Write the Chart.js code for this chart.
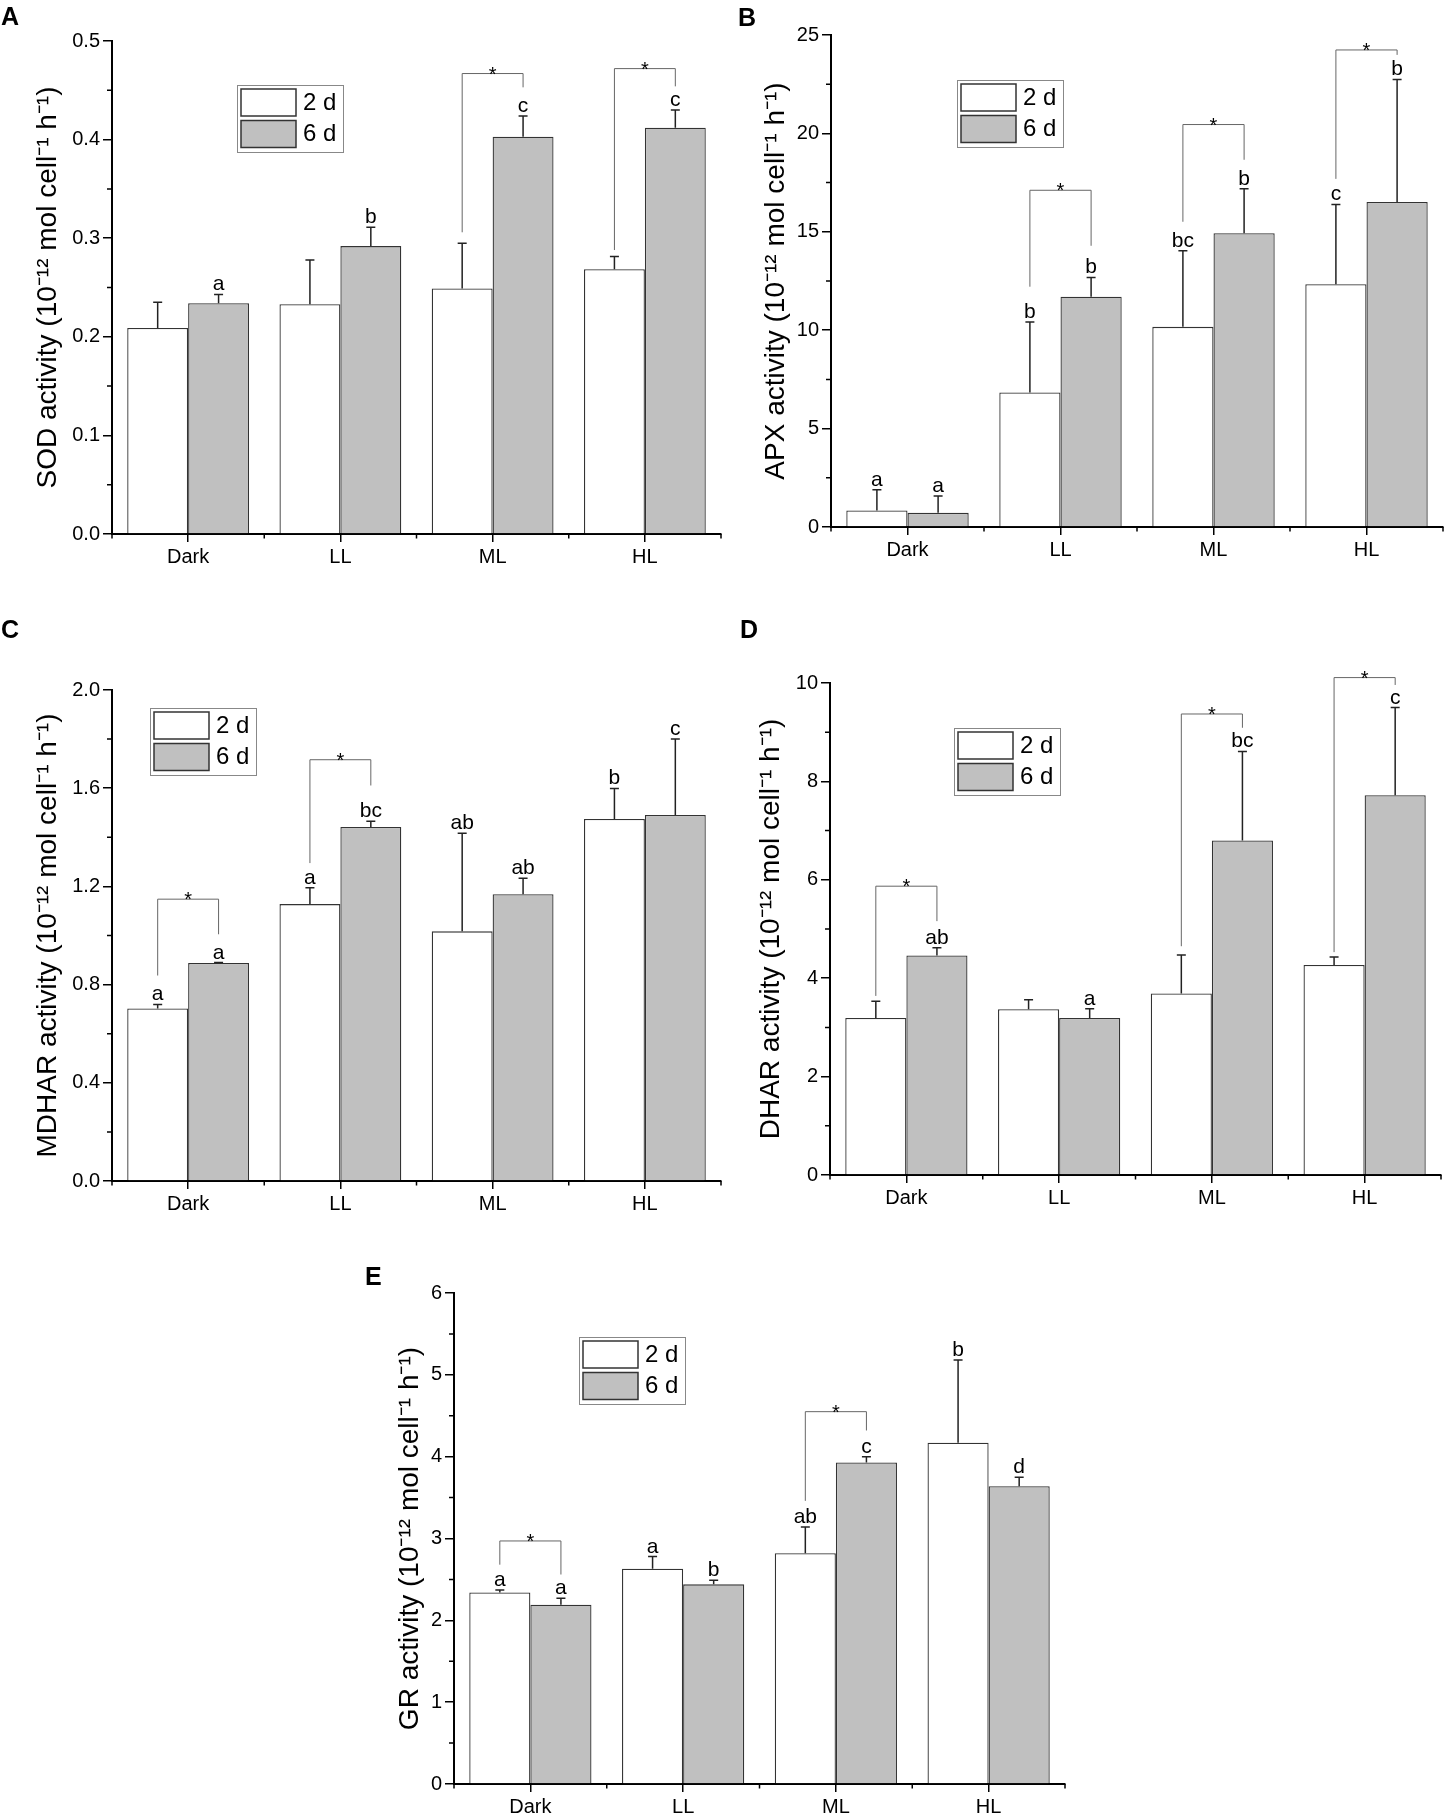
<!DOCTYPE html>
<html>
<head>
<meta charset="utf-8">
<script src="https://cdn.jsdelivr.net/npm/chart.js@4.4.1/dist/chart.umd.min.js"></script>
<style>
  body { margin: 0; background: #fff; width: 1447px; height: 1820px; position: relative; overflow: hidden;
         font-family: "Liberation Sans", Arial, sans-serif; }
  .panel { position: absolute; }
  .tag { position: absolute; font-weight: bold; font-size: 25px; line-height: 1; color: #000; }
</style>
</head>
<body>
<div class="panel" style="left:0px;top:0px;width:724px;height:600px"><canvas id="sodChart"></canvas></div>
<div class="panel" style="left:724px;top:0px;width:723px;height:600px"><canvas id="apxChart"></canvas></div>
<div class="panel" style="left:0px;top:600px;width:724px;height:630px"><canvas id="mdharChart"></canvas></div>
<div class="panel" style="left:724px;top:600px;width:723px;height:630px"><canvas id="dharChart"></canvas></div>
<div class="panel" style="left:350px;top:1230px;width:750px;height:590px"><canvas id="grChart"></canvas></div>

<div class="tag" style="left:1px;top:4px">A</div>
<div class="tag" style="left:738px;top:5px">B</div>
<div class="tag" style="left:1px;top:617px">C</div>
<div class="tag" style="left:740px;top:617px">D</div>
<div class="tag" style="left:365px;top:1264px">E</div>

<script>
// Categories and series
const groups = ['Dark', 'LL', 'ML', 'HL'];
const seriesNames = ['2 d', '6 d'];

// SOD
const sod2d = [0.209, 0.233, 0.249, 0.2685];
const sod6d = [0.234, 0.292, 0.403, 0.412];
const sodErr2d = [0.026, 0.045, 0.046, 0.013];
const sodErr6d = [0.009, 0.019, 0.021, 0.018];
const sodLetters2d = ['', '', '', ''];
const sodLetters6d = ['a', 'b', 'c', 'c'];
const sodBrackets = [[2, 0.306, 0.467, 0.453], [3, 0.288, 0.472, 0.454]];

// APX
const apx2d = [0.84, 6.84, 10.17, 12.34];
const apx6d = [0.72, 11.70, 14.93, 16.52];
const apxErr2d = [1.05, 3.58, 3.87, 4.05];
const apxErr6d = [0.86, 0.98, 2.26, 6.22];
const apxLetters2d = ['a', 'b', 'bc', 'c'];
const apxLetters6d = ['a', 'b', 'b', 'b'];
const apxBrackets = [[1, 12.21, 17.11, 14.29], [2, 15.51, 20.45, 18.66], [3, 17.69, 24.24, 23.99]];

// MDHAR
const mdhar2d = [0.703, 1.128, 1.017, 1.475];
const mdhar6d = [0.888, 1.442, 1.168, 1.491];
const mdharErr2d = [0.016, 0.067, 0.399, 0.124];
const mdharErr6d = [0.002, 0.023, 0.065, 0.309];
const mdharLetters2d = ['a', 'a', 'ab', 'b'];
const mdharLetters6d = ['a', 'bc', 'ab', 'c'];
const mdharBrackets = [[0, 0.837, 1.148, 1.005], [1, 1.295, 1.716, 1.611]];

// DHAR
const dhar2d = [3.19, 3.37, 3.69, 4.27];
const dhar6d = [4.46, 3.19, 6.80, 7.72];
const dharErr2d = [0.34, 0.19, 0.78, 0.16];
const dharErr6d = [0.16, 0.19, 1.81, 1.78];
const dharLetters2d = ['', '', '', ''];
const dharLetters6d = ['ab', 'a', 'bc', 'c'];
const dharBrackets = [[0, 3.64, 5.87, 5.16], [2, 4.65, 9.37, 9.09], [3, 4.53, 10.11, 9.96]];

// GR
const gr2d = [2.34, 2.63, 2.82, 4.17];
const gr6d = [2.19, 2.44, 3.93, 3.64];
const grErr2d = [0.03, 0.15, 0.32, 1.01];
const grErr6d = [0.08, 0.05, 0.07, 0.11];
const grLetters2d = ['a', 'a', 'ab', 'b'];
const grLetters6d = ['a', 'b', 'c', 'd'];
const grBrackets = [[0, 2.68, 2.97, 2.56], [2, 3.46, 4.55, 4.32]];

const FONT = '"Liberation Sans", Arial, sans-serif';
const unitText = ' activity (10\u207B\u00B9\u00B2 mol cell\u207B\u00B9 h\u207B\u00B9)';

// extras looked up by canvas id (error bars, letters, brackets, legend)
const extras = {};

const annotPlugin = {
    id: 'annot',
    afterDatasetsDraw(chart) {
        const ex = extras[chart.canvas.id];
        const ctx = chart.ctx;
        const y = chart.scales.y;
        const metas = [chart.getDatasetMeta(0), chart.getDatasetMeta(1)];
        const values = [chart.data.datasets[0].data, chart.data.datasets[1].data];
        ctx.save();
        // error bars + letters
        for (let s = 0; s < 2; s++) {
            metas[s].data.forEach((bar, j) => {
                const top = y.getPixelForValue(values[s][j] + ex.err[s][j]);
                ctx.strokeStyle = '#222';
                ctx.lineWidth = 1.5;
                ctx.beginPath();
                ctx.moveTo(bar.x, bar.y);
                ctx.lineTo(bar.x, top);
                ctx.moveTo(bar.x - 4.5, top);
                ctx.lineTo(bar.x + 4.5, top);
                ctx.stroke();
                const letter = ex.letters[s][j];
                if (letter) {
                    ctx.fillStyle = '#000';
                    ctx.font = '21px ' + FONT;
                    ctx.textAlign = 'center';
                    ctx.textBaseline = 'alphabetic';
                    ctx.fillText(letter, bar.x, top - 4);
                }
            });
        }
        // significance brackets
        ex.brackets.forEach(([g, left, peak, right]) => {
            const xl = metas[0].data[g].x;
            const xr = metas[1].data[g].x;
            const yt = y.getPixelForValue(peak);
            ctx.strokeStyle = '#666';
            ctx.lineWidth = 1;
            ctx.beginPath();
            ctx.moveTo(xl, y.getPixelForValue(left));
            ctx.lineTo(xl, yt);
            ctx.lineTo(xr, yt);
            ctx.lineTo(xr, y.getPixelForValue(right));
            ctx.stroke();
            ctx.fillStyle = '#000';
            ctx.font = '20px ' + FONT;
            ctx.textAlign = 'center';
            ctx.textBaseline = 'alphabetic';
            ctx.fillText('*', (xl + xr) / 2, yt + 7);
        });
        ctx.restore();
    },
    afterDraw(chart) {
        const ex = extras[chart.canvas.id];
        const ctx = chart.ctx;
        const x = chart.scales.x;
        const y = chart.scales.y;
        const area = chart.chartArea;
        ctx.save();
        // minor ticks
        ctx.strokeStyle = '#000';
        ctx.lineWidth = 1.5;
        ctx.beginPath();
        for (let v = ex.step / 2; v < ex.max; v += ex.step) {
            const py = y.getPixelForValue(v);
            ctx.moveTo(area.left, py);
            ctx.lineTo(area.left - 5, py);
        }
        for (let i = 0; i <= groups.length; i++) {
            const px = x.getPixelForValue(i - 0.5);
            ctx.moveTo(px, area.bottom);
            ctx.lineTo(px, area.bottom + 4.5);
        }
        ctx.stroke();
        // legend box
        const lx = area.left + ex.legend[0];
        const ly = area.top + ex.legend[1];
        ctx.strokeStyle = '#888';
        ctx.lineWidth = 1;
        ctx.strokeRect(lx + 0.5, ly + 0.5, 106, 67);
        chart.data.datasets.forEach((ds, i) => {
            const sy = ly + 4 + i * 31.5;
            ctx.fillStyle = ds.backgroundColor;
            ctx.fillRect(lx + 4, sy, 55, 27);
            ctx.strokeStyle = '#333';
            ctx.lineWidth = 1.5;
            ctx.strokeRect(lx + 4, sy, 55, 27);
            ctx.fillStyle = '#000';
            ctx.font = '24px ' + FONT;
            ctx.textAlign = 'left';
            ctx.textBaseline = 'middle';
            ctx.fillText(ds.label, lx + 66, sy + 14);
        });
        ctx.restore();
    }
};

function makeChart(id, p) {
    extras[id] = {
        err: [p.err2, p.err6],
        letters: [p.let2, p.let6],
        brackets: p.brackets,
        step: p.step,
        max: p.max,
        legend: p.legend
    };
    return new Chart(document.getElementById(id).getContext('2d'), {
        type: 'bar',
        data: {
            labels: groups,
            datasets: [{
                label: seriesNames[0],
                data: p.d2,
                backgroundColor: '#ffffff',
                borderColor: '#333333',
                borderWidth: 1.3,
                barPercentage: 1.0,
                categoryPercentage: 0.8
            }, {
                label: seriesNames[1],
                data: p.d6,
                backgroundColor: '#c0c0c0',
                borderColor: '#333333',
                borderWidth: 1.3,
                barPercentage: 1.0,
                categoryPercentage: 0.8
            }]
        },
        options: {
            responsive: true,
            maintainAspectRatio: false,
            animation: false,
            layout: { padding: { top: p.padTop, right: p.padRight, left: 0, bottom: 0 } },
            plugins: {
                legend: { display: false },
                tooltip: { enabled: false }
            },
            scales: {
                x: {
                    afterFit: (scale) => { scale.height = p.xh; },
                    grid: { display: true, drawOnChartArea: false, drawTicks: true, tickLength: 8,
                            offset: false, color: '#000', lineWidth: 1.5 },
                    border: { display: true, color: '#000', width: 2 },
                    ticks: { color: '#000', padding: 3, font: { family: FONT, size: 20 } }
                },
                y: {
                    min: 0,
                    max: p.max,
                    afterFit: (scale) => { scale.width = p.yw; },
                    grid: { display: true, drawOnChartArea: false, drawTicks: true, tickLength: 9,
                            color: '#000', lineWidth: 1.5 },
                    border: { display: true, color: '#000', width: 2 },
                    ticks: {
                        stepSize: p.step,
                        color: '#000',
                        padding: 3,
                        font: { family: FONT, size: 20 },
                        callback: (v) => Number(v).toFixed(p.dec)
                    },
                    title: {
                        display: true,
                        text: p.title + unitText,
                        color: '#000',
                        font: { family: FONT, size: 28 },
                        padding: { top: p.titlePad, bottom: 0 }
                    }
                }
            }
        },
        plugins: [annotPlugin]
    });
}

makeChart('sodChart', {
    d2: sod2d, d6: sod6d, err2: sodErr2d, err6: sodErr6d, let2: sodLetters2d, let6: sodLetters6d,
    brackets: sodBrackets, max: 0.5, step: 0.1, dec: 1, title: 'SOD',
    yw: 112, xh: 66, padTop: 41, padRight: 3, titlePad: 31, legend: [125, 44]
});
makeChart('apxChart', {
    d2: apx2d, d6: apx6d, err2: apxErr2d, err6: apxErr6d, let2: apxLetters2d, let6: apxLetters6d,
    brackets: apxBrackets, max: 25, step: 5, dec: 0, title: 'APX',
    yw: 107, xh: 73, padTop: 35, padRight: 4, titlePad: 35, legend: [126, 45]
});
makeChart('mdharChart', {
    d2: mdhar2d, d6: mdhar6d, err2: mdharErr2d, err6: mdharErr6d, let2: mdharLetters2d, let6: mdharLetters6d,
    brackets: mdharBrackets, max: 2.0, step: 0.4, dec: 1, title: 'MDHAR',
    yw: 112, xh: 49, padTop: 90, padRight: 3, titlePad: 31, legend: [38, 18]
});
makeChart('dharChart', {
    d2: dhar2d, d6: dhar6d, err2: dharErr2d, err6: dharErr6d, let2: dharLetters2d, let6: dharLetters6d,
    brackets: dharBrackets, max: 10, step: 2, dec: 0, title: 'DHAR',
    yw: 106, xh: 55, padTop: 83, padRight: 6, titlePad: 30, legend: [124, 45]
});
makeChart('grChart', {
    d2: gr2d, d6: gr6d, err2: grErr2d, err6: grErr6d, let2: grLetters2d, let6: grLetters6d,
    brackets: grBrackets, max: 6, step: 1, dec: 0, title: 'GR',
    yw: 104, xh: 36, padTop: 63, padRight: 35, titlePad: 43, legend: [125, 44]
});
</script>
</body>
</html>
